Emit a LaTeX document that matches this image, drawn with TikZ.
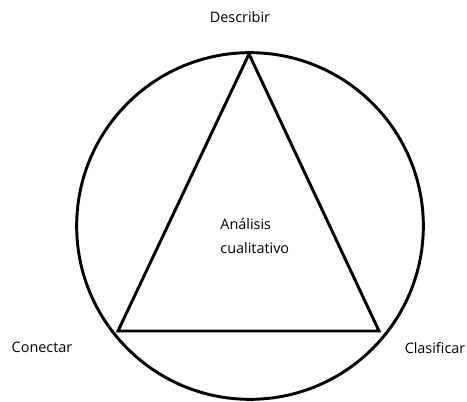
\documentclass[tikz,border=0pt]{standalone}
\usepackage{fontspec}
\setmainfont{Open Sans}
\usepackage{tikz}
\usetikzlibrary{positioning}

\begin{document}
\begin{tikzpicture}[
  x=0.75pt, y=-0.75pt,
  lbl/.style={font=\fontsize{10.8}{18.5}\selectfont, inner sep=0pt},
  every path/.style={line width=2.2pt, line join=miter},
]
\useasboundingbox (0,0) rectangle (467,402);
% circle
\coordinate (O) at (250,226);
\draw (O) circle[radius=130pt];
% triangle
\coordinate (T) at (249,54);
\coordinate (L) at (118,331);
\coordinate (R) at (379,331);
\draw (T) -- (L) -- (R) -- cycle;
% labels
\node[lbl] (desc) at (240,17) {Describir};
\node[lbl] (con) at (42,347) {Conectar};
\node[lbl] (clas) at (435,348) {Clasificar};
\node[lbl, align=left, anchor=west] (ana) at (219,236) {Análisis\\cualitativo};
\end{tikzpicture}
\end{document}
